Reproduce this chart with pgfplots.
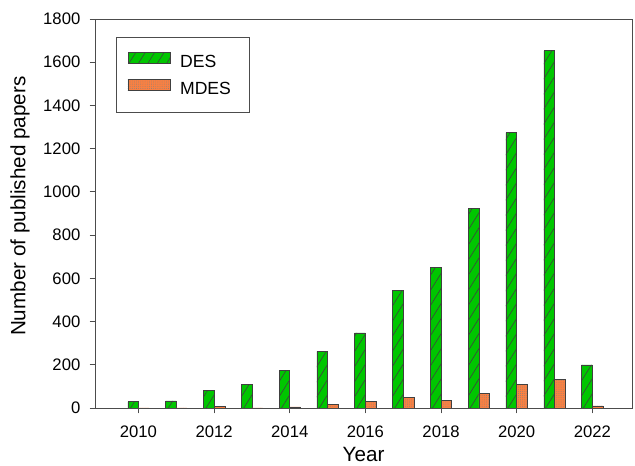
\documentclass[border=0pt]{standalone}
\usepackage{pgfplots}
\pgfplotsset{compat=1.18}
\usepackage{fontspec}
\setmainfont{Liberation Sans}
\usetikzlibrary{patterns.meta}
\definecolor{desgreen}{RGB}{0,198,0}
\definecolor{mdesorange}{RGB}{250,128,66}
\begin{document}
\begin{tikzpicture}
\useasboundingbox (-71.25pt,-43.5pt) rectangle (405pt,306pt);
\begin{axis}[
  at={(0,0)}, anchor=south west,
  scale only axis,
  width=402.75pt, height=291.75pt,
  xmin=2008.85, xmax=2023.05,
  ymin=0, ymax=1800,
  xtick={2010,2012,...,2022},
  ytick={0,200,...,1800},
  /pgf/number format/assume math mode=true,
  /pgf/number format/1000 sep={},
  tick align=outside,
  tick pos=left,
  major tick length=4pt,
  axis line style={draw=black!70},
  tick style={draw=black!70, line width=0.6pt},
  ticklabel style={font=\fontsize{12.5}{15}\selectfont},
  yticklabel style={xshift=-3.5pt},
  xticklabel style={yshift=-6pt},
  xlabel={Year}, ylabel={Number of published papers},
  label style={font=\fontsize{15.5}{18}\selectfont},
  xlabel style={at={(axis description cs:0.5,-0.1388)}, anchor=base},
  ylabel style={at={(axis description cs:-0.1397,0.519)}, anchor=center},
  ybar, bar width=8pt,
  legend style={at={(axis description cs:0.0391,0.9544)}, anchor=north west, draw=black!70,
    font=\fontsize{13.2}{15}\selectfont, nodes={inner sep=0pt},
    inner xsep=8.5pt, inner ysep=11.5pt, row sep=7.3pt, column sep=7.5pt},
  legend image code/.code={\draw[#1] (0pt,-0.5pt) rectangle (31.5pt,7.5pt);},
]
\addplot[bar shift=-4pt, draw=black!75, fill=desgreen, postaction={pattern={Lines[angle=58, distance=6pt, line width=0.45pt]}, pattern color=black!75}]
 coordinates {(2010,30)(2011,33)(2012,80)(2013,111)(2014,173)(2015,261)(2016,348)(2017,545)(2018,650)(2019,922)(2020,1274)(2021,1653)(2022,200)};
\addplot[bar shift=4pt, draw=black!75, fill=mdesorange, postaction={pattern={Dots[distance=1.6pt, radius=0.33pt]}, pattern color=black!50}]
 coordinates {(2010,0)(2011,0)(2012,7)(2013,0)(2014,5)(2015,15)(2016,30)(2017,49)(2018,34)(2019,68)(2020,111)(2021,134)(2022,10)};
\legend{\makebox[43pt][l]{DES}, \makebox[43pt][l]{MDES}}
\end{axis}
\end{tikzpicture}
\end{document}
